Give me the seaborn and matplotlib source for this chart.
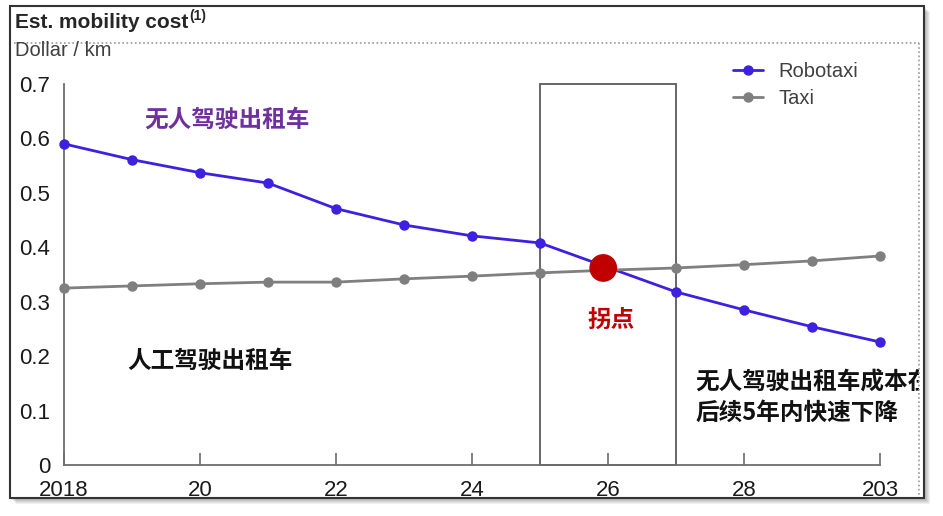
import matplotlib
matplotlib.use("Agg")
import seaborn as sns
import pandas as pd
import matplotlib.pyplot as plt
from matplotlib.patches import Rectangle
from matplotlib.lines import Line2D
from matplotlib.transforms import Bbox, TransformedBbox


sns.set_style("white")
plt.rcParams["font.family"] = ["Liberation Sans", "DejaVu Sans"]
CJK = ["Noto Sans CJK SC", "DejaVu Sans"]

# values
years = list(range(2018, 2031))
robotaxi = [0.590, 0.561, 0.537, 0.518, 0.471, 0.441, 0.421, 0.408, 0.363, 0.318, 0.285, 0.254, 0.226]
taxi = [0.325, 0.329, 0.333, 0.336, 0.336, 0.342, 0.347, 0.353, 0.358, 0.362, 0.368, 0.375, 0.384]
x_ticks = [2018, 2020, 2022, 2024, 2026, 2028, 2030]
x_labels = ["2018", "20", "22", "24", "26", "28", "203"]
y_ticks = [0, 0.1, 0.2, 0.3, 0.4, 0.5, 0.6, 0.7]
y_labels = ["0", "0.1", "0.2", "0.3", "0.4", "0.5", "0.6", "0.7"]
window_years = [2025, 2027]
cross_year = [2025.93]
cross_value = [0.362]

W, H = 943, 516


def fx(px):
    return px / W


def fy(py):
    return 1 - py / H


def main():
    data = pd.DataFrame({"year": years, "Robotaxi": robotaxi, "Taxi": taxi})

    fig = plt.figure(figsize=(W / 100, H / 100), dpi=100)

    # card with shadow
    for k in range(1, 7):
        fig.add_artist(Rectangle((fx(10 + k), fy(498 + k)), fx(914), 492 / H,
                                 transform=fig.transFigure, facecolor="black",
                                 edgecolor="none", alpha=0.06, zorder=-3))
    fig.add_artist(Rectangle((fx(10), fy(498)), fx(914), 492 / H,
                             transform=fig.transFigure, facecolor="white",
                             edgecolor="none", zorder=-2))
    fig.add_artist(Rectangle((fx(10), fy(498)), fx(914), 492 / H,
                             transform=fig.transFigure, fill=False,
                             edgecolor="#333333", lw=1.5, zorder=5))
    fig.add_artist(Line2D([fx(14), fx(919)], [fy(43), fy(43)], transform=fig.transFigure,
                          ls=(0, (1, 1.5)), color="#9a9a9a", lw=1.2))
    fig.add_artist(Line2D([fx(919), fx(919)], [fy(43), fy(497)], transform=fig.transFigure,
                          ls=(0, (1, 1.5)), color="#9a9a9a", lw=1.2))

    ax = fig.add_axes([fx(64), fy(465), (880 - 64) / W, (465 - 84) / H])
    ax.set_facecolor("none")

    sns.lineplot(data=data, x="year", y="Robotaxi", color="#3d20e0", marker="o",
                 markersize=7.5, markeredgewidth=0, lw=2, label="Robotaxi", ax=ax, zorder=3)
    sns.lineplot(data=data, x="year", y="Taxi", color="#7f7f7f", marker="o",
                 markersize=7.5, markeredgewidth=0, lw=2, label="Taxi", ax=ax, zorder=3)
    for line in ax.lines:
        line.set_clip_on(False)

    ax.add_patch(Rectangle((window_years[0], 0), window_years[1] - window_years[0], 0.7,
                           fill=False, edgecolor="#5a5a5a", lw=1.3, zorder=2, clip_on=False))

    sns.scatterplot(x=cross_year, y=cross_value, s=400, color="#c00000",
                    edgecolor="none", ax=ax, zorder=4, legend=False)

    ax.set_xlim(2018, 2030)
    ax.set_ylim(0, 0.7)
    ax.set_xticks(x_ticks)
    ax.set_xticklabels(x_labels)
    ax.set_yticks(y_ticks)
    ax.set_yticklabels(y_labels)
    ax.set_xlabel("")
    ax.set_ylabel("")
    for side in ["top", "right"]:
        ax.spines[side].set_visible(False)
    for side in ["left", "bottom"]:
        ax.spines[side].set_color("#6d6d6d")
        ax.spines[side].set_linewidth(1.3)
    ax.tick_params(axis="x", direction="in", length=9, width=1.2, color="#6d6d6d",
                   pad=11, labelsize=16, labelcolor="#1a1a1a", bottom=True)
    ax.tick_params(axis="y", length=0, pad=10, labelsize=16, labelcolor="#1a1a1a")

    handles, labels = ax.get_legend_handles_labels()
    ax.legend(handles[:2], labels[:2], loc="upper left",
              bbox_to_anchor=(fx(733), fy(62)), bbox_transform=fig.transFigure,
              frameon=False, fontsize=14.5, handlelength=1.5, handletextpad=0.75,
              labelspacing=0.42, borderpad=0, borderaxespad=0, labelcolor="#404040")

    # headings
    renderer = fig.canvas.get_renderer()
    title = fig.text(fx(15), fy(22), "Est. mobility cost", fontsize=15, weight="bold",
                     va="center", ha="left", color="#262626")
    x1 = title.get_window_extent(renderer).x1
    fig.text((x1 + 1) / W, fy(9), "(1)", fontsize=10, weight="bold", va="top",
             ha="left", color="#262626")
    fig.text(fx(15), fy(51), "Dollar / km", fontsize=14.5, va="center", ha="left",
             color="#404040")

    # annotations
    ax.text(2019.18, 0.634, "无人驾驶出租车", family=CJK, fontsize=17, weight="bold",
            color="#7030a0", va="center", ha="left")
    ax.text(2018.93, 0.191, "人工驾驶出租车", family=CJK, fontsize=17, weight="bold",
            color="#111111", va="center", ha="left")
    ax.text(2026.04, 0.267, "拐点", family=CJK, fontsize=17, weight="bold",
            color="#c00000", va="center", ha="center")
    note = ax.text(2027.29, 0.124, "无人驾驶出租车成本在\n后续5年内快速下降", family=CJK,
                   fontsize=17, weight="bold", color="#111111", va="center", ha="left",
                   linespacing=1.3)
    note.set_clip_box(TransformedBbox(Bbox.from_extents(0, 0, fx(919), 1), fig.transFigure))
    note.set_clip_on(True)

    fig.savefig("out.png", dpi=100)


if __name__ == "__main__":
    main()
